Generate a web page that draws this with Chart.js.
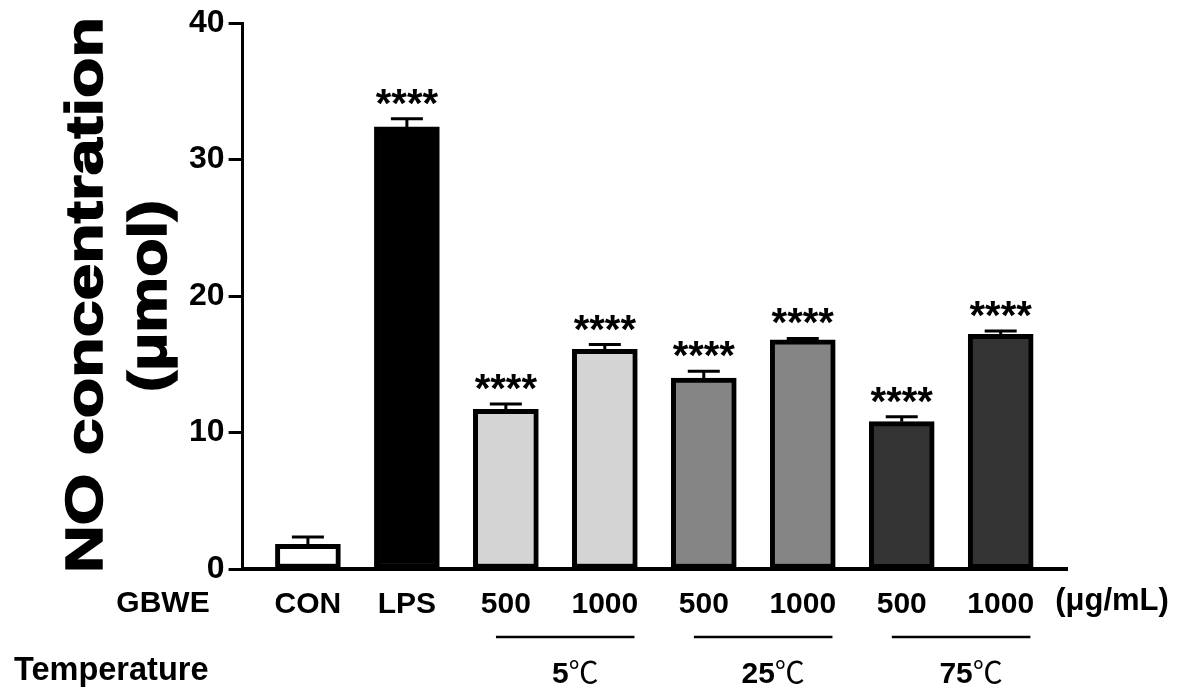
<!DOCTYPE html>
<html>
<head>
<meta charset="utf-8">
<script src="https://cdn.jsdelivr.net/npm/chart.js@4/dist/chart.umd.min.js"></script>
<style>
  body { margin: 0; background: #fff; }
  #wrap { width: 1182px; height: 692px; position: relative; }
</style>
</head>
<body>
<div id="wrap"><canvas id="noChart"></canvas></div>
<script>
// 데이터
const doseLabels = ["CON", "LPS", "500", "1000", "500", "1000", "500", "1000"];
const noValues = [1.8, 32.4, 11.7, 16.1, 14.0, 16.8, 10.8, 17.2];
const noErrors = [0.55, 0.6, 0.4, 0.35, 0.5, 0.1, 0.35, 0.25];
const sigMarks = ["", "****", "****", "****", "****", "****", "****", "****"];
const barColors = ["#ffffff", "#000000", "#d4d4d4", "#d4d4d4", "#858585", "#858585", "#333333", "#333333"];
const tempGroups = [
  { label: "5", from: 2, to: 3 },
  { label: "25", from: 4, to: 5 },
  { label: "75", from: 6, to: 7 },
];
const yTicks = [0, 10, 20, 30, 40];

const FONT = "'Liberation Sans', Arial, sans-serif";

// 에러바 + 유의성 표시
const errorBarPlugin = {
  id: "errorBars",
  afterDatasetsDraw(chart) {
    const ctx = chart.ctx;
    const yScale = chart.scales.y;
    const meta = chart.getDatasetMeta(0);
    ctx.save();
    ctx.strokeStyle = "#000";
    ctx.lineWidth = 3;
    meta.data.forEach((bar, i) => {
      const yTop = yScale.getPixelForValue(noValues[i] + noErrors[i]);
      const yBar = yScale.getPixelForValue(noValues[i]);
      ctx.beginPath();
      ctx.moveTo(bar.x, yBar);
      ctx.lineTo(bar.x, yTop);
      ctx.moveTo(bar.x - 16, yTop);
      ctx.lineTo(bar.x + 16, yTop);
      ctx.stroke();
      if (sigMarks[i]) {
        ctx.fillStyle = "#000";
        ctx.font = `bold 40px ${FONT}`;
        ctx.textAlign = "center";
        ctx.textBaseline = "alphabetic";
        ctx.fillText(sigMarks[i], bar.x, yTop - 2);
      }
    });
    ctx.restore();
  },
};

// 축 제목, 하단 라벨
const annotationPlugin = {
  id: "annotations",
  afterDraw(chart) {
    const ctx = chart.ctx;
    const xScale = chart.scales.x;
    ctx.save();
    ctx.fillStyle = "#000";

    // y축 제목 (세로)
    const drawVertical = (text, x, y, size, length) => {
      ctx.save();
      ctx.font = `bold ${size}px ${FONT}`;
      const w = ctx.measureText(text).width;
      ctx.translate(x, y);
      ctx.rotate(-Math.PI / 2);
      ctx.scale(length / w, 1);
      ctx.textAlign = "center";
      ctx.textBaseline = "alphabetic";
      ctx.lineWidth = 1.5;
      ctx.strokeStyle = "#000";
      ctx.fillText(text, 0, 0);
      ctx.strokeText(text, 0, 0);
      ctx.restore();
    };
    drawVertical("NO concentration", 102, 295, 52, 556);
    drawVertical("(μmol)", 166, 296, 54, 192);

    ctx.font = `bold 30px ${FONT}`;
    ctx.textBaseline = "middle";
    ctx.textAlign = "center";
    ctx.fillText("GBWE", 163, 604);
    ctx.font = `bold 31px ${FONT}`;
    ctx.fillText("(μg/mL)", 1112, 601);
    ctx.font = `bold 32.5px ${FONT}`;
    ctx.textAlign = "left";
    ctx.fillText("Temperature", 14, 671);

    // 온도 그룹 선
    ctx.strokeStyle = "#000";
    ctx.lineWidth = 2.5;
    tempGroups.forEach((g) => {
      const x1 = xScale.getPixelForValue(g.from - 0.1);
      const x2 = xScale.getPixelForValue(g.to + 0.3);
      ctx.beginPath();
      ctx.moveTo(x1, 637);
      ctx.lineTo(x2, 637);
      ctx.stroke();

      const numFont = `bold 30px ${FONT}`;
      const unitFont = "30px 'Noto Sans CJK SC', sans-serif";
      ctx.font = numFont;
      const wNum = ctx.measureText(g.label).width;
      ctx.font = unitFont;
      const wUnit = ctx.measureText("℃").width;
      const cx = (x1 + x2) / 2 + 10;
      const start = cx - (wNum + wUnit) / 2;
      ctx.textAlign = "left";
      ctx.textBaseline = "alphabetic";
      ctx.font = numFont;
      ctx.fillText(g.label, start, 683);
      ctx.font = unitFont;
      ctx.fillText("℃", start + wNum, 683);
    });
    ctx.restore();
  },
};

const ctxEl = document.getElementById("noChart");
const noChart = new Chart(ctxEl, {
  type: "bar",
  data: {
    datasets: [
      {
        data: noValues.map((v, i) => ({ x: i, y: v })),
        backgroundColor: barColors,
        borderColor: "#000",
        borderWidth: 5,
        borderSkipped: false,
        barThickness: 65,
      },
    ],
  },
  options: {
    responsive: true,
    maintainAspectRatio: false,
    animation: { duration: 0 },
    layout: {
      padding: { left: 185, right: 115, top: 23, bottom: 51 },
    },
    plugins: {
      legend: { display: false },
      tooltip: { enabled: false },
    },
    scales: {
      x: {
        type: "linear",
        offset: false,
        min: -0.66,
        max: 7.67,
        afterBuildTicks: (axis) => {
          axis.ticks = doseLabels.map((_, i) => ({ value: i }));
        },
        ticks: {
          autoSkip: false,
          maxRotation: 0,
          padding: 18,
          color: "#000",
          font: { family: FONT, weight: "bold", size: 30 },
          callback: (value) => doseLabels[value],
        },
        grid: { display: false, drawTicks: false },
        border: { display: true, color: "#000", width: 4 },
      },
      y: {
        min: 0,
        max: 40,
        afterBuildTicks: (axis) => {
          axis.ticks = yTicks.map((v) => ({ value: v }));
        },
        ticks: {
          padding: 4,
          color: "#000",
          font: { family: FONT, weight: "bold", size: 32 },
        },
        grid: {
          drawOnChartArea: false,
          drawTicks: true,
          tickLength: 14,
          tickWidth: 3,
          tickColor: "#000",
        },
        border: { display: true, color: "#000", width: 3 },
      },
    },
  },
  plugins: [errorBarPlugin, annotationPlugin],
});
</script>
</body>
</html>
